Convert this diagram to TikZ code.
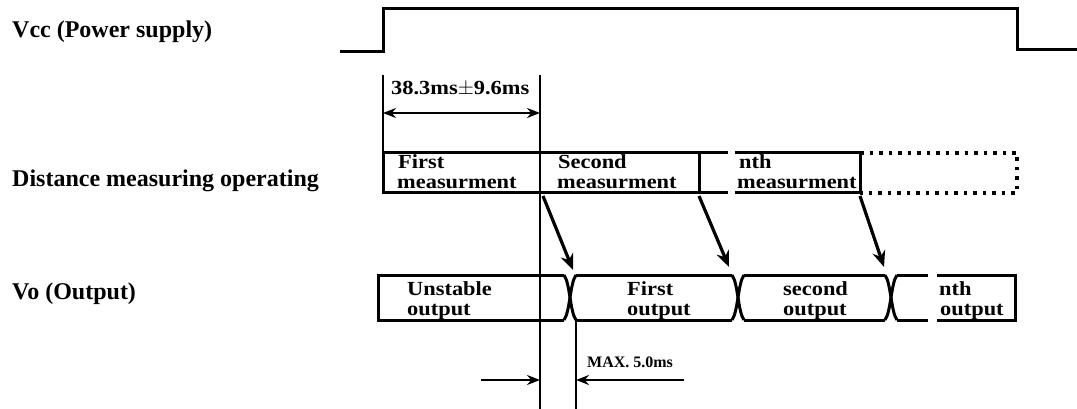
\documentclass[tikz,border=0pt]{standalone}
\usepackage{fontspec}
\setmainfont{Liberation Serif}
\newfontfamily\widefont{Liberation Serif}[FakeStretch=1.12]
\usetikzlibrary{arrows.meta}
\begin{document}
\begin{tikzpicture}[x=1pt,y=-1pt,
  wave/.style={line width=3pt, line join=miter},
  thin/.style={line width=2.6pt},
  lbl/.style={font=\fontsize{24}{24}\selectfont\bfseries, anchor=base west, inner sep=0pt},
  boxtxt/.style={font=\widefont\fontsize{20}{20}\selectfont\bfseries, anchor=base west, inner sep=0pt},
  dimtxt/.style={font=\widefont\fontsize{20}{20}\selectfont\bfseries, anchor=base west, inner sep=0pt},
  maxtxt/.style={font=\fontsize{16}{16}\selectfont\bfseries, anchor=base west, inner sep=0pt},
  bigarrow/.style={line width=3.2pt, -{Stealth[length=16pt,width=13pt]}},
  dimarrow/.style={line width=2.4pt, {Stealth[length=13pt,width=10pt]}-{Stealth[length=13pt,width=10pt]}},
  onearrow/.style={line width=2.4pt, -{Stealth[length=13pt,width=10pt]}},
  dotbox/.style={line width=3.4pt, dash pattern=on 3.5pt off 6pt}
]
\useasboundingbox (0,0) rectangle (1077,409);

% labels
\node[lbl] (lvcc) at (12,38) {Vcc (Power supply)};
\node[lbl] (ldist) at (12,187) {Distance measuring operating};
\node[lbl] (lvo) at (12,299) {Vo (Output)};

% Vcc waveform
\coordinate (v0) at (340,52);
\coordinate (v1) at (383,52);
\coordinate (v2) at (383,9);
\coordinate (v3) at (1017,9);
\coordinate (v4) at (1017,50);
\coordinate (v5) at (1077,50);
\draw[wave] (v0) -- (v1) -- (v2) -- (v3) -- (v4) -- (v5);

% 38.3 ms dimension
\coordinate (d1t) at (383,75);
\coordinate (d2t) at (540,75);
\coordinate (d1a) at (383,113);
\coordinate (d2a) at (540,113);
\coordinate (m1) at (383,153);
\coordinate (bot1) at (540,409);
\draw[thin] (d1t) -- (m1);
\draw[thin] (d2t) -- (bot1);
\draw[dimarrow] (d1a) -- (d2a);
\node[dimtxt] (tdim) at (391,95) {38.3ms$\pm$9.6ms};

% measurement row
\coordinate (m2) at (699,153);
\coordinate (m3) at (699,193);
\coordinate (m4) at (383,193);
\coordinate (m5) at (728,153);
\coordinate (m6) at (728,193);
\coordinate (n1) at (735,153);
\coordinate (n2) at (860,153);
\coordinate (n3) at (860,193);
\coordinate (n4) at (735,193);
\coordinate (p1) at (1017,153);
\coordinate (p2) at (1017,193);
\draw[wave] (m1) -- (m2) -- (m3) -- (m4) -- cycle;
\draw[wave] (m2) -- (m5);
\draw[wave] (m3) -- (m6);
\draw[wave] (n1) -- (n2) -- (n3) -- (n4);
\draw[dotbox] (n2) -- (p1) -- (p2) -- (n3);

\node[boxtxt] (t1a) at (398,168) {First};
\node[boxtxt] (t1b) at (397,189) {measurment};
\node[boxtxt] (t2a) at (558,168) {Second};
\node[boxtxt] (t2b) at (557,189) {measurment};
\node[boxtxt] (t3a) at (739,168) {nth};
\node[boxtxt] (t3b) at (737,189) {measurment};

% output row
\def\yt{275}\def\yb{320}
\coordinate (o1) at (378,\yt);
\coordinate (o2) at (378,\yb);
\foreach \cx/\nm in {570/a,738/b,891/c}{
  \coordinate (x\nm tl) at ({\cx-6},\yt);
  \coordinate (x\nm bl) at ({\cx-6},\yb);
  \coordinate (x\nm tr) at ({\cx+6},\yt);
  \coordinate (x\nm br) at ({\cx+6},\yb);
  \draw[wave] (x\nm tl) .. controls ({\cx},{\yt+8}) and ({\cx},{\yb-8}) .. (x\nm br);
  \draw[wave] (x\nm bl) .. controls ({\cx},{\yb-8}) and ({\cx},{\yt+8}) .. (x\nm tr);
}
\coordinate (e1) at (928,\yt);
\coordinate (e2) at (928,\yb);
\coordinate (q1) at (937,\yt);
\coordinate (q2) at (1015,\yt);
\coordinate (q3) at (1015,\yb);
\coordinate (q4) at (937,\yb);
\draw[wave] (xatl) -- (o1) -- (o2) -- (xabl);
\draw[wave] (xatr) -- (xbtl);
\draw[wave] (xabr) -- (xbbl);
\draw[wave] (xbtr) -- (xctl);
\draw[wave] (xbbr) -- (xcbl);
\draw[wave] (xctr) -- (e1);
\draw[wave] (xcbr) -- (e2);
\draw[wave] (q1) -- (q2) -- (q3) -- (q4);

\node[boxtxt] (u1a) at (407,295) {Unstable};
\node[boxtxt] (u1b) at (407,315) {output};
\node[boxtxt] (u2a) at (627,295) {First};
\node[boxtxt] (u2b) at (627,315) {output};
\node[boxtxt] (u3a) at (783,295) {second};
\node[boxtxt] (u3b) at (783,315) {output};
\node[boxtxt] (u4a) at (939,295) {nth};
\node[boxtxt] (u4b) at (940,315) {output};

% diagonal arrows
\coordinate (s1) at (543,196);
\coordinate (s2) at (699,196);
\coordinate (s3) at (860,196);
\coordinate (f1) at (573,270);
\coordinate (f2) at (729,267);
\coordinate (f3) at (884,267);
\draw[bigarrow] (s1) -- (f1);
\draw[bigarrow] (s2) -- (f2);
\draw[bigarrow] (s3) -- (f3);

% MAX 5.0 ms
\coordinate (bot2) at (576,409);
\draw[thin] (xabr) -- (bot2);
\coordinate (ma) at (481,380);
\coordinate (mb) at (540,380);
\coordinate (mc) at (576,380);
\coordinate (md) at (684,380);
\draw[onearrow] (ma) -- (mb);
\draw[onearrow] (md) -- (mc);
\node[maxtxt] (tmax) at (587,367) {MAX. 5.0ms};
\end{tikzpicture}
\end{document}
